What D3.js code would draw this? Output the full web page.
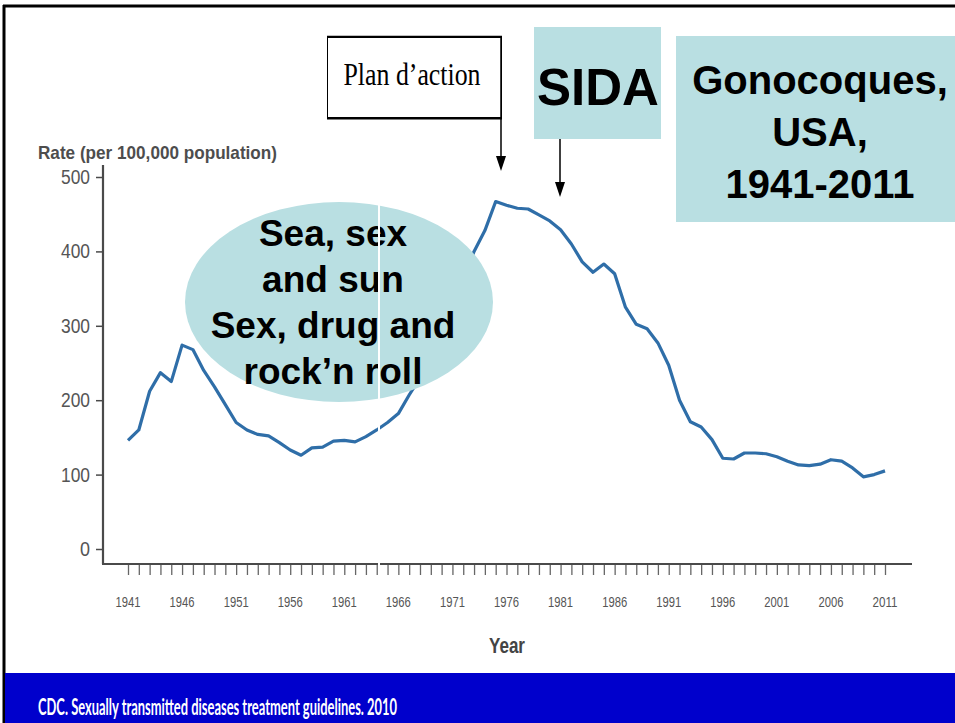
<!DOCTYPE html>
<html>
<head>
<meta charset="utf-8">
<script src="https://cdn.jsdelivr.net/npm/d3@7"></script>
<style>
  body { margin: 0; background: #fff; }
  svg { display: block; }
</style>
</head>
<body>
<svg id="canvas" width="955" height="723"></svg>
<script>
// gonorrhea rate per 100,000, USA
let years = d3.range(1941, 2012)
let rates = [
  146, 160, 212, 237, 225, 274, 268, 240, 218, 194,
  170, 160, 154, 152, 143, 133, 126, 136, 137, 145,
  146, 144, 151, 160, 170, 182, 207, 230, 258, 297,
  327, 362, 400, 428, 467, 462, 458, 457, 449, 441,
  429, 410, 386, 372, 383, 370, 325, 302, 296, 277,
  247, 200, 171, 164, 147, 122, 121, 129, 129, 128,
  124, 118, 113, 112, 114, 120, 118, 109, 97, 100, 105
]
let yTicks = [0, 100, 200, 300, 400, 500]
let xLabelYears = [1941, 1946, 1951, 1956, 1961, 1966, 1971, 1976, 1981, 1986, 1991, 1996, 2001, 2006, 2011]
let ellipseLines = ['Sea, sex', 'and sun', 'Sex, drug and', 'rock\u2019n roll']
let titleLines = ['Gonocoques,', 'USA,', '1941-2011']
let footerText = 'CDC. Sexually transmitted diseases treatment guidelines. 2010'

let canvas = d3.select('#canvas')
let teal = '#b9dfe2'
let axisGrey = '#4a4a4a'
let sans = '"Liberation Sans", Arial, sans-serif'

let xScale = d3.scaleLinear().domain([1941, 2011]).range([128, 885])
let yScale = d3.scaleLinear().domain([0, 500]).range([549, 177])

// slide frame
canvas.append('line').attr('x1', 3).attr('x2', 955).attr('y1', 6).attr('y2', 6)
  .attr('stroke', '#000').attr('stroke-width', 3)
canvas.append('line').attr('x1', 4).attr('x2', 4).attr('y1', 5).attr('y2', 723)
  .attr('stroke', '#000').attr('stroke-width', 3)

// y axis
let yAxis = d3.axisLeft(yScale).tickValues(yTicks).tickSize(7).tickPadding(6)
let gy = canvas.append('g').attr('transform', 'translate(103,0)').call(yAxis)
gy.select('.domain').remove()
gy.selectAll('line').attr('stroke', axisGrey).attr('stroke-width', 1.5)
gy.selectAll('text').attr('fill', '#555').style('font-family', sans).style('font-size', '20px')
  .attr('textLength', (d) => d === 0 ? 10 : 29).attr('lengthAdjust', 'spacingAndGlyphs')
canvas.append('line').attr('x1', 103).attr('x2', 103).attr('y1', 165).attr('y2', 564)
  .attr('stroke', axisGrey).attr('stroke-width', 2.2)

// x axis
let xAxis = d3.axisBottom(xScale).tickValues(years).tickSize(11).tickFormat('')
let gx = canvas.append('g').attr('transform', 'translate(0,564)').call(xAxis)
gx.select('.domain').remove()
gx.selectAll('line').attr('stroke', '#666').attr('stroke-width', 1.3)
canvas.append('line').attr('x1', 102).attr('x2', 912).attr('y1', 564).attr('y2', 564)
  .attr('stroke', axisGrey).attr('stroke-width', 2.2)
canvas.append('g').selectAll('text')
  .data(xLabelYears)
  .enter()
  .append('text')
  .attr('x', (d) => xScale(d))
  .attr('y', 607)
  .attr('text-anchor', 'middle')
  .attr('fill', '#555')
  .style('font-family', sans)
  .style('font-size', '15px')
  .attr('textLength', 25)
  .attr('lengthAdjust', 'spacingAndGlyphs')
  .text((d) => d)

canvas.append('text').attr('x', 507).attr('y', 653).attr('text-anchor', 'middle')
  .attr('fill', '#444').style('font-family', sans).style('font-size', '22px')
  .style('font-weight', 'bold').attr('textLength', 36).attr('lengthAdjust', 'spacingAndGlyphs')
  .text('Year')
canvas.append('text').attr('x', 38).attr('y', 159)
  .attr('fill', '#4d4d4d').style('font-family', sans).style('font-size', '19px')
  .style('font-weight', 'bold').attr('textLength', 239).attr('lengthAdjust', 'spacingAndGlyphs')
  .text('Rate (per 100,000 population)')

// the data line
let line = d3.line()
  .x((d, i) => xScale(years[i]))
  .y((d) => yScale(d))
canvas.append('path')
  .datum(rates)
  .attr('d', line)
  .attr('fill', 'none')
  .attr('stroke', '#2f6ea8')
  .attr('stroke-width', 3.2)
  .attr('stroke-linejoin', 'round')

// ellipse callout
canvas.append('ellipse').attr('cx', 339).attr('cy', 302).attr('rx', 154).attr('ry', 100)
  .attr('fill', teal)
canvas.append('g').selectAll('text')
  .data(ellipseLines)
  .enter()
  .append('text')
  .attr('x', 333)
  .attr('y', (d, i) => 246 + i * 46)
  .attr('text-anchor', 'middle')
  .style('font-family', sans)
  .style('font-weight', 'bold')
  .style('font-size', '37px')
  .text((d) => d)
canvas.append('line').attr('x1', 379).attr('x2', 379).attr('y1', 200).attr('y2', 568)
  .attr('stroke', '#fff').attr('stroke-width', 2)

// Plan d'action box
canvas.append('rect').attr('x', 327.5).attr('y', 37.5).attr('width', 174).attr('height', 80)
  .attr('fill', '#fff').attr('stroke', '#000').attr('stroke-width', 1)
canvas.append('line').attr('x1', 327).attr('x2', 502).attr('y1', 36.5).attr('y2', 36.5)
  .attr('stroke', '#000').attr('stroke-width', 1.5)
canvas.append('line').attr('x1', 327).attr('x2', 502).attr('y1', 118.5).attr('y2', 118.5)
  .attr('stroke', '#000').attr('stroke-width', 2)
canvas.append('text').attr('x', 412).attr('y', 85).attr('text-anchor', 'middle')
  .style('font-family', '"Liberation Serif", "DejaVu Serif", serif').style('font-size', '32px')
  .attr('textLength', 137).attr('lengthAdjust', 'spacingAndGlyphs')
  .text('Plan d\u2019action')

// arrows
let arrow = (x, y1, y2) => {
  canvas.append('line').attr('x1', x).attr('x2', x).attr('y1', y1).attr('y2', y2 - 12)
    .attr('stroke', '#000').attr('stroke-width', 1.5)
  canvas.append('path')
    .attr('d', 'M' + (x - 5) + ',' + (y2 - 15) + ' L' + (x + 5) + ',' + (y2 - 15) + ' L' + x + ',' + y2 + ' Z')
    .attr('fill', '#000')
}
arrow(501, 37, 171)
arrow(560, 139, 197)

// SIDA box
canvas.append('rect').attr('x', 534).attr('y', 27).attr('width', 127).attr('height', 112).attr('fill', teal)
canvas.append('text').attr('x', 598).attr('y', 105).attr('text-anchor', 'middle')
  .style('font-family', sans).style('font-weight', 'bold')
  .style('font-size', '52px').attr('textLength', 122).attr('lengthAdjust', 'spacingAndGlyphs')
  .text('SIDA')

// title box
canvas.append('rect').attr('x', 676).attr('y', 36).attr('width', 279).attr('height', 186).attr('fill', teal)
canvas.append('g').selectAll('text')
  .data(titleLines)
  .enter()
  .append('text')
  .attr('x', 820)
  .attr('y', (d, i) => 94 + i * 52)
  .attr('text-anchor', 'middle')
  .style('font-family', sans)
  .style('font-weight', 'bold')
  .style('font-size', '40px')
  .text((d) => d)

// footer
canvas.append('rect').attr('x', 5).attr('y', 673).attr('width', 950).attr('height', 50).attr('fill', '#0000cc')
canvas.append('text').attr('x', 38).attr('y', 715)
  .attr('fill', '#fff').style('font-family', 'Lato, "Open Sans", sans-serif')
  .style('font-weight', 'bold').style('font-size', '22px')
  .attr('textLength', 359).attr('lengthAdjust', 'spacingAndGlyphs')
  .text(footerText)
</script>
</body>
</html>
